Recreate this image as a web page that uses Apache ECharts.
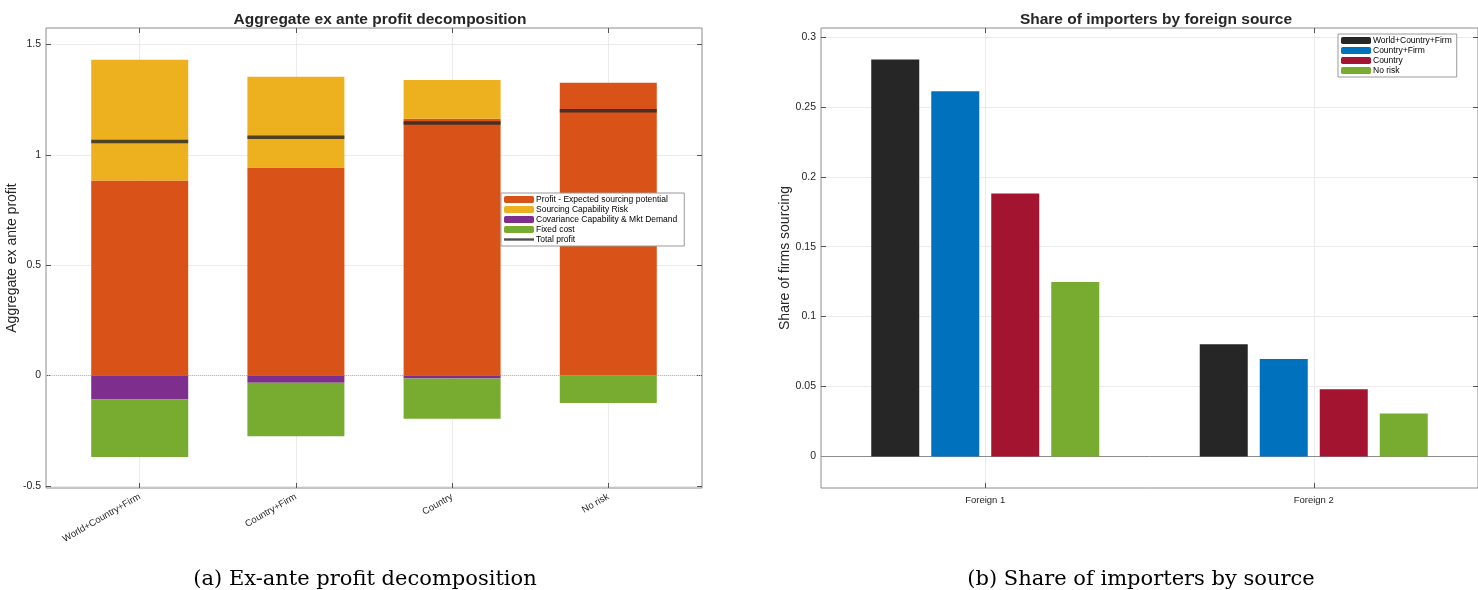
<!DOCTYPE html>
<html><head><meta charset="utf-8">
<script src="https://cdn.jsdelivr.net/npm/echarts@6/dist/echarts.min.js"></script>
<style>html,body{margin:0;padding:0;background:#fff}#c{width:1478px;height:590px}</style>
</head><body><div id="c"></div>
<script>
// ---- Left chart data ----
const scenarios = ['World+Country+Firm', 'Country+Firm', 'Country', 'No risk'];
const profitExpected = [0.884, 0.943, 1.164, 1.327];
const capabilityRisk = [0.547, 0.411, 0.175, 0];
const covariance = [-0.109, -0.033, -0.014, 0];
const fixedCost = [-0.261, -0.242, -0.182, -0.125];
const totalProfit = [1.061, 1.080, 1.144, 1.200];
const leftYTicks = [-0.5, 0, 0.5, 1, 1.5];

// ---- Right chart data ----
const sources = ['Foreign 1', 'Foreign 2'];
const shareWorldCountryFirm = [0.2839, 0.0803];
const shareCountryFirm = [0.2612, 0.0696];
const shareCountry = [0.1881, 0.0481];
const shareNoRisk = [0.1248, 0.0307];
const rightYTicks = [0, 0.05, 0.1, 0.15, 0.2, 0.25, 0.3];

const FONT = "'Liberation Sans', Arial, Helvetica, sans-serif";
const SERIF = "'DejaVu Serif', 'Liberation Serif', serif";
const fmt = v => String(+(+v).toFixed(3));
const pos = arr => arr.map((v, i) => [i + 1, v]);

const leftX = scenarios.map((s, i) => i + 1);
const rightX = sources.map((s, i) => i + 1);

// left plot: x limits [0.4, 4.6] over 656 px
const L_LEFT = 46, L_W = 656, L_MIN = 0.4, L_MAX = 4.6;
const unitL = L_W / (L_MAX - L_MIN);
const barGridLeft = L_LEFT + (0.5 - L_MIN) * unitL;
const barGridWidth = scenarios.length * unitL;

function xAxisCfg(gridIndex, min, max, ticks, names, show, position, labelOpts) {
  return {
    type: 'value', gridIndex, min, max, position,
    axisLine: { show: false, onZero: false },
    axisTick: { show: true, inside: true, length: 5, customValues: ticks, lineStyle: { color: '#555' } },
    axisLabel: Object.assign({ show, customValues: ticks, formatter: v => names[Math.round(v) - 1] || '',
      color: '#262626', fontFamily: FONT }, labelOpts || {}),
    splitLine: { show: show, lineStyle: { color: '#ebebeb' } }
  };
}
function yAxisCfg(gridIndex, min, max, ticks, show, position, name, nameGap) {
  return {
    type: 'value', gridIndex, min, max, position,
    name: show ? name : '', nameLocation: 'middle', nameGap,
    nameTextStyle: { fontFamily: FONT, fontSize: 14, color: '#262626' },
    axisLine: { show: false, onZero: false },
    axisTick: { show: true, inside: true, length: 5, customValues: ticks, lineStyle: { color: '#555' } },
    axisLabel: { show, customValues: ticks, formatter: fmt, color: '#262626', fontFamily: FONT, fontSize: 10.5, margin: 5 },
    splitLine: { show: show, lineStyle: { color: '#ebebeb' } }
  };
}

const C_ORANGE = '#D95319', C_YELLOW = '#EDB120', C_PURPLE = '#7E2F8E', C_GREEN = '#77AC30', C_BLACK = '#262626', C_BLUE = '#0072BD', C_RED = '#A2142F';

const chart = echarts.init(document.getElementById('c'), null, { renderer: 'canvas' });
const stackBar = (name, color, data) => ({
  name, type: 'bar', stack: 'p', xAxisIndex: 4, yAxisIndex: 4, barWidth: 97,
  itemStyle: { color }, data
});
const option = {
  animation: false,
  backgroundColor: '#fff',
  title: [
    { text: 'Aggregate ex ante profit decomposition', left: 375, top: 7, textAlign: 'center',
      textStyle: { fontFamily: FONT, fontWeight: 'bold', fontSize: 15.5, color: '#262626' } },
    { text: 'Share of importers by foreign source', left: 1151, top: 7, textAlign: 'center',
      textStyle: { fontFamily: FONT, fontWeight: 'bold', fontSize: 15.5, color: '#262626' } },
    { text: '(a) Ex-ante profit decomposition', left: 360, top: 564, textAlign: 'center',
      textStyle: { fontFamily: SERIF, fontWeight: 'normal', fontSize: 21, color: '#000' } },
    { text: '(b) Share of importers by source', left: 1136, top: 564, textAlign: 'center',
      textStyle: { fontFamily: SERIF, fontWeight: 'normal', fontSize: 21, color: '#000' } }
  ],
  legend: [
    { orient: 'vertical', left: 501, top: 193, itemWidth: 30, itemHeight: 7, itemGap: 1,
      padding: [2, 7, 2, 3], backgroundColor: '#fff', borderColor: '#999', borderWidth: 1,
      textStyle: { fontFamily: FONT, fontSize: 8.5, color: '#000', padding: [0, 0, 0, -3] },
      data: ['Profit - Expected sourcing potential', 'Sourcing Capability Risk', 'Covariance Capability & Mkt Demand', 'Fixed cost',
        { name: 'Total profit', icon: 'path://M0,0 H30 V2.4 H0 Z' }] },
    { orient: 'vertical', left: 1338, top: 34, itemWidth: 30, itemHeight: 7, itemGap: 1,
      padding: [2, 5, 2, 3], backgroundColor: '#fff', borderColor: '#999', borderWidth: 1,
      textStyle: { fontFamily: FONT, fontSize: 8.5, color: '#000', padding: [0, 0, 0, -3] },
      data: ['World+Country+Firm', 'Country+Firm', 'Country', 'No risk'] }
  ],
  grid: [
    { left: L_LEFT, top: 28, width: L_W, height: 460, show: true, borderColor: '#8c8c8c', borderWidth: 1, backgroundColor: 'transparent' },
    { left: 821, top: 28, width: 664, height: 460, show: true, borderColor: '#8c8c8c', borderWidth: 1, backgroundColor: 'transparent' },
    { left: barGridLeft, top: 28, width: barGridWidth, height: 460, show: false }
  ],
  xAxis: [
    xAxisCfg(0, L_MIN, L_MAX, leftX, scenarios, true, 'bottom', { rotate: 30, fontSize: 9.5, margin: 8 }),
    xAxisCfg(0, L_MIN, L_MAX, leftX, scenarios, false, 'top'),
    xAxisCfg(1, 0.5, 2.5, rightX, sources, true, 'bottom', { fontSize: 9.5, margin: 7 }),
    xAxisCfg(1, 0.5, 2.5, rightX, sources, false, 'top'),
    { type: 'category', gridIndex: 2, data: scenarios, show: false, boundaryGap: true }
  ],
  yAxis: [
    yAxisCfg(0, -0.51, 1.575, leftYTicks, true, 'left', 'Aggregate ex ante profit', 24),
    yAxisCfg(0, -0.51, 1.575, leftYTicks, false, 'right', '', 0),
    yAxisCfg(1, -0.0226, 0.3064, rightYTicks, true, 'left', 'Share of firms sourcing', 24),
    yAxisCfg(1, -0.0226, 0.3064, rightYTicks, false, 'right', '', 0),
    { type: 'value', gridIndex: 2, min: -0.51, max: 1.575, show: false, splitLine: { show: false } }
  ],
  series: [
    stackBar('Profit - Expected sourcing potential', C_ORANGE, profitExpected),
    stackBar('Sourcing Capability Risk', C_YELLOW, capabilityRisk),
    stackBar('Covariance Capability & Mkt Demand', C_PURPLE, covariance),
    stackBar('Fixed cost', C_GREEN, fixedCost),
    { name: 'Total profit', type: 'scatter', xAxisIndex: 0, yAxisIndex: 0, z: 5,
      symbol: 'rect', symbolSize: [97, 3.5], itemStyle: { color: C_BLACK }, data: pos(totalProfit),
      markLine: { silent: true, symbol: 'none', label: { show: false }, z: 1,
        lineStyle: { color: '#bbb', type: 'dotted', width: 1 }, data: [{ yAxis: 0 }] } },

    { name: 'World+Country+Firm', type: 'bar', xAxisIndex: 2, yAxisIndex: 2, barWidth: 48, barGap: '25%',
      itemStyle: { color: C_BLACK }, data: pos(shareWorldCountryFirm),
      markLine: { silent: true, symbol: 'none', label: { show: false }, z: 1,
        lineStyle: { color: '#8c8c8c', type: 'solid', width: 1 }, data: [{ yAxis: 0 }] } },
    { name: 'Country+Firm', type: 'bar', xAxisIndex: 2, yAxisIndex: 2, barWidth: 48, barGap: '25%',
      itemStyle: { color: C_BLUE }, data: pos(shareCountryFirm) },
    { name: 'Country', type: 'bar', xAxisIndex: 2, yAxisIndex: 2, barWidth: 48, barGap: '25%',
      itemStyle: { color: C_RED }, data: pos(shareCountry) },
    { name: 'No risk', type: 'bar', xAxisIndex: 2, yAxisIndex: 2, barWidth: 48, barGap: '25%',
      itemStyle: { color: C_GREEN }, data: pos(shareNoRisk) }
  ]
};
chart.setOption(option);
</script>
</body></html>
